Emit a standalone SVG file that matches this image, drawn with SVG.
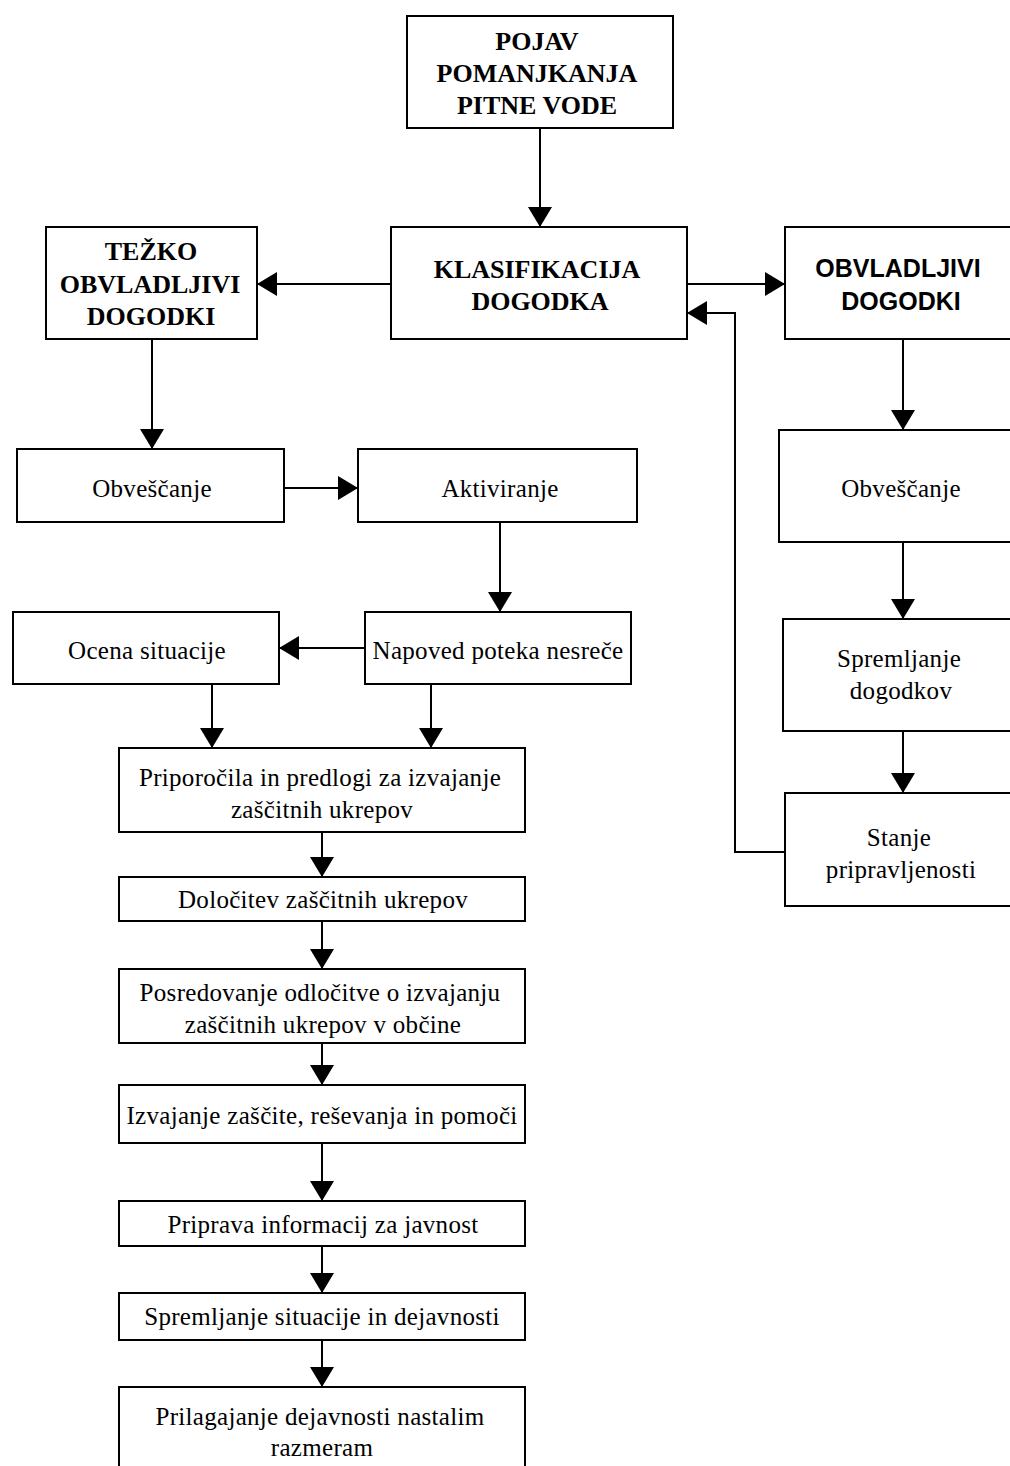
<svg xmlns="http://www.w3.org/2000/svg" width="1010" height="1466" viewBox="0 0 1010 1466">
<style>
.b{fill:#fff;stroke:#000;stroke-width:2}
.t{font-family:"Liberation Serif","Times New Roman",serif;font-size:25px;letter-spacing:0.3px;fill:#000;text-anchor:middle}
.tb{font-family:"Liberation Serif","Times New Roman",serif;font-size:26px;font-weight:bold;fill:#000;text-anchor:middle}
.ts{font-family:"Liberation Sans",Arial,sans-serif;font-size:25px;font-weight:bold;fill:#000;text-anchor:middle}
.c{fill:none;stroke:#000;stroke-width:2}
</style>
<defs>
<marker id="ah" markerUnits="userSpaceOnUse" markerWidth="24" markerHeight="24" refX="20" refY="12" orient="auto">
<path d="M0,0 L20,12 L0,24 Z" fill="#000"/>
</marker>
</defs>
<rect width="1010" height="1466" fill="#fff"/>
<g id="connectors">
<path class="c" d="M540,128 V227" marker-end="url(#ah)"/>
<path class="c" d="M391,284 H257" marker-end="url(#ah)"/>
<path class="c" d="M687,284 H785" marker-end="url(#ah)"/>
<path class="c" d="M785,852 H735 V313 H687" marker-end="url(#ah)"/>
<path class="c" d="M152,339 V449" marker-end="url(#ah)"/>
<path class="c" d="M284,488 H358" marker-end="url(#ah)"/>
<path class="c" d="M903,339 V430" marker-end="url(#ah)"/>
<path class="c" d="M903,542 V619" marker-end="url(#ah)"/>
<path class="c" d="M903,731 V793" marker-end="url(#ah)"/>
<path class="c" d="M500,522 V612" marker-end="url(#ah)"/>
<path class="c" d="M365,648 H279" marker-end="url(#ah)"/>
<path class="c" d="M212,684 V748" marker-end="url(#ah)"/>
<path class="c" d="M431,684 V748" marker-end="url(#ah)"/>
<path class="c" d="M322,832 V877" marker-end="url(#ah)"/>
<path class="c" d="M322,921 V969" marker-end="url(#ah)"/>
<path class="c" d="M322,1043 V1085" marker-end="url(#ah)"/>
<path class="c" d="M322,1143 V1201" marker-end="url(#ah)"/>
<path class="c" d="M322,1246 V1293" marker-end="url(#ah)"/>
<path class="c" d="M322,1340 V1387" marker-end="url(#ah)"/>
</g>
<g id="pojav"><rect class="b" x="407" y="16" width="266" height="112"/>
<text class="tb" x="537" y="50">POJAV</text><text class="tb" x="537" y="82">POMANJKANJA</text><text class="tb" x="537" y="114">PITNE VODE</text></g>
<g id="klasifikacija"><rect class="b" x="391" y="227" width="296" height="112"/>
<text class="tb" x="537" y="278">KLASIFIKACIJA</text><text class="tb" x="540" y="310">DOGODKA</text></g>
<g id="tezko"><rect class="b" x="46" y="227" width="211" height="112"/>
<text class="tb" x="151" y="260">TEŽKO</text><text class="tb" x="150" y="293">OBVLADLJIVI</text><text class="tb" x="151" y="325">DOGODKI</text></g>
<g id="obvladljivi"><rect class="b" x="785" y="227" width="230" height="112"/>
<text class="ts" x="898" y="277">OBVLADLJIVI</text><text class="ts" x="901" y="310">DOGODKI</text></g>
<g id="obvescanje-l"><rect class="b" x="17" y="449" width="267" height="73"/>
<text class="t" x="152" y="497">Obveščanje</text></g>
<g id="aktiviranje"><rect class="b" x="358" y="449" width="279" height="73"/>
<text class="t" x="500" y="497">Aktiviranje</text></g>
<g id="obvescanje-r"><rect class="b" x="779" y="430" width="236" height="112"/>
<text class="t" x="901" y="497">Obveščanje</text></g>
<g id="spremljanje-dog"><rect class="b" x="783" y="619" width="232" height="112"/>
<text class="t" x="899" y="667">Spremljanje</text><text class="t" x="901" y="699">dogodkov</text></g>
<g id="stanje"><rect class="b" x="785" y="793" width="230" height="113"/>
<text class="t" x="899" y="846">Stanje</text><text class="t" x="901" y="878">pripravljenosti</text></g>
<g id="napoved"><rect class="b" x="365" y="612" width="266" height="72"/>
<text class="t" x="498" y="659">Napoved poteka nesreče</text></g>
<g id="ocena"><rect class="b" x="13" y="612" width="266" height="72"/>
<text class="t" x="147" y="659">Ocena situacije</text></g>
<g id="priporocila"><rect class="b" x="119" y="748" width="406" height="84"/>
<text class="t" x="320" y="786">Priporočila in predlogi za izvajanje</text><text class="t" x="322" y="818">zaščitnih ukrepov</text></g>
<g id="dolocitev"><rect class="b" x="119" y="877" width="406" height="44"/>
<text class="t" x="323" y="908">Določitev zaščitnih ukrepov</text></g>
<g id="posredovanje"><rect class="b" x="119" y="969" width="406" height="74"/>
<text class="t" x="320" y="1001">Posredovanje odločitve o izvajanju</text><text class="t" x="323" y="1033">zaščitnih ukrepov v občine</text></g>
<g id="izvajanje"><rect class="b" x="119" y="1085" width="406" height="58"/>
<text class="t" x="322" y="1124">Izvajanje zaščite, reševanja in pomoči</text></g>
<g id="priprava"><rect class="b" x="119" y="1201" width="406" height="45"/>
<text class="t" x="323" y="1233">Priprava informacij za javnost</text></g>
<g id="spremljanje-sit"><rect class="b" x="119" y="1293" width="406" height="47"/>
<text class="t" x="322" y="1325">Spremljanje situacije in dejavnosti</text></g>
<g id="prilagajanje"><rect class="b" x="119" y="1387" width="406" height="90"/>
<text class="t" x="320" y="1425">Prilagajanje dejavnosti nastalim</text><text class="t" x="322" y="1456">razmeram</text></g>
</svg>
